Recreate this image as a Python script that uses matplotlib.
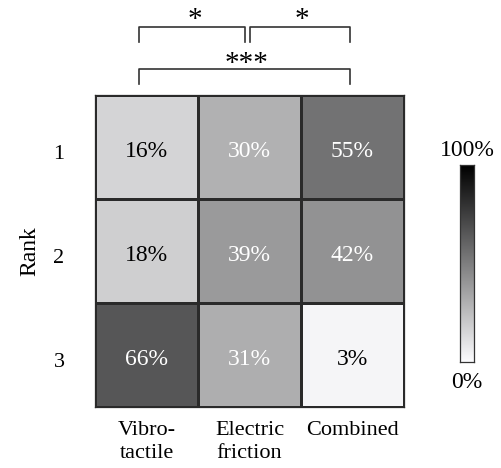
import numpy as np
import matplotlib
matplotlib.use("Agg")
import matplotlib.pyplot as plt
import matplotlib.transforms as mtransforms
from matplotlib.colors import LinearSegmentedColormap

plt.rcParams['font.family'] = ['Liberation Serif', 'DejaVu Serif']

methods = ['Vibro-\ntactile', 'Electric\nfriction', 'Combined']
ranks = ['1', '2', '3']
values = np.array([[16, 30, 55],
                   [18, 39, 42],
                   [66, 31, 3]])
# (left column, right column, label)
brackets = [(0, 1, '*'), (1, 2, '*'), (0, 2, '***')]

cmap = LinearSegmentedColormap.from_list('grey', ['#fcfcfe', '#000000'])

W, H = 501, 468
fig = plt.figure(figsize=(W / 100, H / 100), dpi=100)
ax = fig.add_axes([95/W, 61/H, 309/W, 312/H])
ax.pcolormesh(np.arange(4) - 0.5, np.arange(4) - 0.5, values, cmap=cmap,
              vmin=0, vmax=100, edgecolors='#2a2a2a', linewidth=0.8)
ax.set_xlim(-0.5, 2.5)
ax.set_ylim(2.5, -0.5)
for i in range(3):
    for j in range(3):
        v = values[i, j]
        ax.text(j, i + 0.04, f'{v}%', ha='center', va='center', fontsize=17,
                color='white' if v >= 25 else 'black')
ax.set_xticks(range(3))
ax.set_xticklabels(methods, fontsize=16, linespacing=1.3)
ax.set_yticks(np.arange(3) + 0.05)
ax.set_yticklabels(ranks, fontsize=16)
ax.tick_params(length=0, pad=10)
ax.tick_params(axis='y', pad=22)
ax.set_ylabel('Rank', fontsize=17, labelpad=9)
for s in ax.spines.values():
    s.set_color('#2a2a2a')
    s.set_linewidth(0.9)

# significance brackets: x in data units, y in figure pixels from top
tr = mtransforms.blended_transform_factory(ax.transData, fig.transFigure)
levels = {1: (42, 27, 20), 2: (84, 69, 64)}
for a, b, lab in brackets:
    span = b - a
    ylo, yhi, yt = levels[span]
    x0 = a - 0.07 if a == 0 else a + 0.0
    x1 = b - 0.04 if b == 1 else b - 0.02
    ax.plot([x0, x0, x1, x1], [1 - ylo/H, 1 - yhi/H, 1 - yhi/H, 1 - ylo/H],
            transform=tr, color='#333333', lw=1.2, clip_on=False)
    ax.text((x0 + x1) / 2 + 0.02, 1 - yt/H, lab, transform=tr, ha='center',
            va='center', fontsize=21, clip_on=False)

# colorbar
cax = fig.add_axes([460/W, 106/H, 14/W, 197/H])
grad = np.linspace(100, 0, 256).reshape(-1, 1)
cax.imshow(grad, aspect='auto', cmap=cmap, vmin=0, vmax=100, extent=[0, 1, 0, 100])
cax.set_xticks([])
cax.set_yticks([])
for s in cax.spines.values():
    s.set_color('#333333')
    s.set_linewidth(0.9)
fig.text(467/W, 1 - 150/H, '100%', ha='center', va='center', fontsize=17)
fig.text(467/W, 1 - 383/H, '0%', ha='center', va='center', fontsize=17)

fig.savefig('out.png', dpi=100)
